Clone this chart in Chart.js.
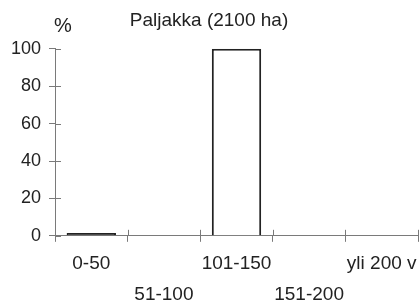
<!DOCTYPE html>
<html>
<head>
<meta charset="utf-8">
<script src="https://cdn.jsdelivr.net/npm/chart.js@4"></script>
<style>
html,body{margin:0;padding:0;background:#fff;}
#wrap{width:420px;height:304px;}
</style>
</head>
<body>
<div id="wrap"><canvas id="c" width="420" height="304"></canvas></div>
<script>
const categories = ['0-50', '51-100', '101-150', '151-200', 'yli 200 v'];
const shares = [1.5, 0, 100, 0, 0];
const yTicks = [0, 20, 40, 60, 80, 100];
const titleText = 'Paljakka (2100 ha)';
const unitText = '%';

const FONT = "'Liberation Sans', Arial, Helvetica, sans-serif";
const TEXT = '#222';
const AXIS = '#7a7a7a';

const crossTicks = {
  id: 'crossTicks',
  afterDraw(chart) {
    const ctx = chart.ctx;
    const x = chart.scales.x, y = chart.scales.y;
    const ax = chart.chartArea.left, ay = chart.chartArea.bottom;
    ctx.save();
    ctx.strokeStyle = AXIS;
    ctx.lineWidth = 1;
    ctx.beginPath();
    yTicks.forEach(v => {
      const py = Math.round(y.getPixelForValue(v)) + 0.5;
      ctx.moveTo(ax, py); ctx.lineTo(ax + 6, py);
    });
    for (let i = 0; i <= categories.length; i++) {
      const px = Math.round(x.getPixelForValue(i - 0.5)) + 0.5;
      ctx.moveTo(px, ay); ctx.lineTo(px, ay - 6);
    }
    ctx.stroke();
    ctx.fillStyle = TEXT;
    ctx.font = '20px ' + FONT;
    ctx.textAlign = 'center';
    ctx.textBaseline = 'middle';
    ctx.fillText(unitText, ax + 8, chart.chartArea.top - 22);
    ctx.restore();
  }
};

new Chart(document.getElementById('c'), {
  type: 'bar',
  data: {
    labels: categories,
    datasets: [{
      data: shares,
      backgroundColor: (c) => (c.raw !== undefined && c.raw < 5 ? '#222' : '#ffffff'),
      borderColor: '#222',
      borderWidth: 2,
      barPercentage: 0.68,
      categoryPercentage: 1
    }]
  },
  options: {
    responsive: false,
    animation: false,
    devicePixelRatio: 1,
    layout: { padding: { left: 0, right: 2, top: 0, bottom: -13 } },
    plugins: {
      legend: { display: false },
      tooltip: { enabled: false },
      title: {
        display: true,
        text: titleText,
        color: TEXT,
        font: { family: FONT, size: 19, weight: 'normal', lineHeight: 1.2 },
        padding: { top: 9, bottom: 17 }
      }
    },
    scales: {
      x: {
        offset: true,
        afterFit: (s) => { s.paddingLeft = 0; s.paddingRight = 0; },
        grid: { offset: true, drawOnChartArea: false, drawTicks: true, tickLength: 6, color: AXIS },
        border: { display: true, color: AXIS, width: 1 },
        ticks: {
          autoSkip: false,
          maxRotation: 0,
          minRotation: 0,
          padding: 7,
          color: TEXT,
          font: { family: FONT, size: 19, lineHeight: 1.61 },
          callback: function(value, index) {
            const l = categories[index];
            return index % 2 === 0 ? l : ['', l];
          }
        }
      },
      y: {
        min: 0,
        max: 100,
        afterFit: (scale) => { scale.width = 55; },
        grid: { drawOnChartArea: false, drawTicks: true, tickLength: 6, color: AXIS },
        border: { display: true, color: AXIS, width: 1 },
        ticks: {
          stepSize: 20,
          padding: 8,
          color: TEXT,
          font: { family: FONT, size: 18 }
        }
      }
    }
  },
  plugins: [crossTicks]
});
</script>
</body>
</html>
